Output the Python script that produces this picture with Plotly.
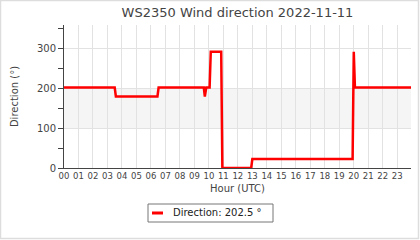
import plotly.graph_objects as go

# Data (hour of day, wind direction in degrees)
hours = [0.0, 3.50, 3.58, 6.45, 6.53, 9.65, 9.72, 9.82, 10.05, 10.13,
         10.85, 10.93, 12.92, 13.00, 19.92, 20.00, 20.08, 23.95]
direction = [202.5, 202.5, 180.0, 180.0, 202.5, 202.5, 180.0, 202.5, 202.5, 292.5,
             292.5, 0.0, 0.0, 22.5, 22.5, 292.5, 202.5, 202.5]
tick_hours = list(range(24))
tick_labels = [f"{h:02d}" for h in tick_hours]
band = [100, 200]
title = "WS2350 Wind direction 2022-11-11"
legend_label = "Direction: 202.5 °"

W, H = 420, 240
L, R, T, B = 64, 9, 25, 72
pw, ph = W - L - R, H - T - B


def px_x(p):
    return (p - L) / pw


def px_y(p):
    return (H - B - p) / ph


FONT = "DejaVu Sans"
TXT = "#444444"

fig = go.Figure()
fig.add_trace(go.Scatter(x=hours, y=direction, mode="lines",
                         line=dict(color="#ff0000", width=2.5),
                         showlegend=False, hoverinfo="skip"))

shapes = [
    dict(type="rect", xref="paper", yref="y", x0=0, x1=1, y0=band[0], y1=band[1],
         fillcolor="#f5f5f5", line=dict(width=0), layer="below"),
    # outer frame
    dict(type="rect", xref="paper", yref="paper",
         x0=px_x(0.5), x1=px_x(418.5), y0=px_y(238.5), y1=px_y(0.5),
         line=dict(color="#dddddd", width=1.5), fillcolor="rgba(0,0,0,0)"),
    # legend box
    dict(type="rect", xref="paper", yref="paper",
         x0=px_x(148), x1=px_x(273), y0=px_y(222), y1=px_y(204),
         line=dict(color="#777777", width=1), fillcolor="white"),
    dict(type="line", xref="paper", yref="paper",
         x0=px_x(152), x1=px_x(163), y0=px_y(213), y1=px_y(213),
         line=dict(color="#ff0000", width=3)),
]

fig.update_layout(
    width=W, height=H,
    margin=dict(l=L, r=R, t=T, b=B, pad=0),
    paper_bgcolor="white", plot_bgcolor="white",
    font=dict(family=FONT, color=TXT, size=10),
    title=dict(text=title, x=0.5, xref="paper", xanchor="center",
               y=1 - 12 / H, yanchor="middle", yref="container",
               font=dict(size=13, color=TXT)),
    shapes=shapes,
    annotations=[dict(text=legend_label, xref="paper", yref="paper",
                      x=px_x(171), y=px_y(213), xanchor="left", yanchor="middle",
                      showarrow=False, font=dict(size=10, color="#222222"))],
    showlegend=False,
)

fig.update_xaxes(range=[0, 23.95], tickvals=tick_hours, ticktext=tick_labels,
                 showgrid=True, gridcolor="#e2e2e2", gridwidth=1,
                 showline=True, linecolor="#444444", linewidth=1,
                 ticks="", zeroline=False, tickfont=dict(size=8.5, color=TXT),
                 title=dict(text="Hour (UTC)", font=dict(size=10, color=TXT), standoff=4))

fig.update_yaxes(range=[0, 360], tickvals=[0, 100, 200, 300],
                 showgrid=True, gridcolor="#e2e2e2", gridwidth=1,
                 showline=True, linecolor="#444444", linewidth=1,
                 ticks="outside", ticklen=5, tickcolor="#444444",
                 minor=dict(tick0=0, dtick=50, ticks="outside", ticklen=5,
                            tickcolor="#444444", showgrid=False),
                 zeroline=False, tickfont=dict(size=10, color=TXT),
                 title=dict(text="Direction (°)", font=dict(size=10, color=TXT), standoff=16))

fig.update_layout(font=dict(family=FONT))
fig.write_html("out.html")
